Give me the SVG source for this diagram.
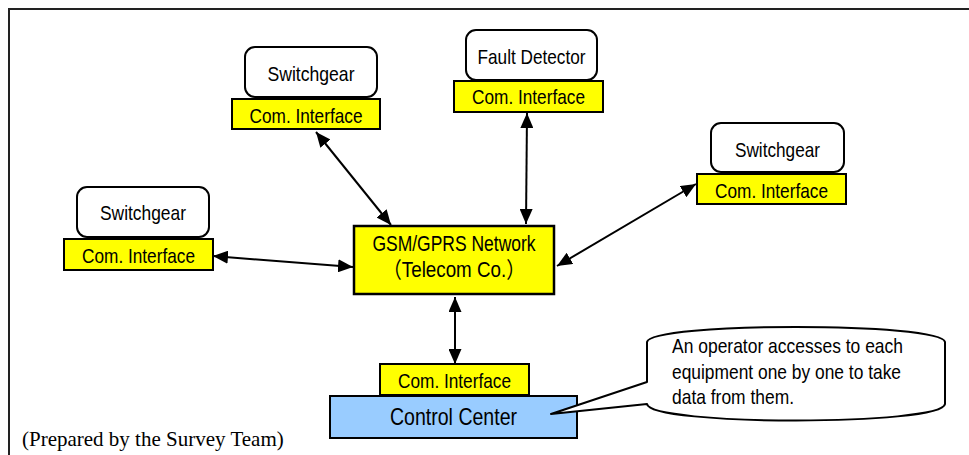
<svg xmlns="http://www.w3.org/2000/svg" width="969" height="455" viewBox="0 0 969 455">
  <defs>
    <style>
      .frame { fill: none; stroke: #222; stroke-width: 2; }
      .dev { fill: #ffffff; stroke: #000; stroke-width: 2; }
      .ifc { fill: #ffff00; stroke: #000; stroke-width: 2; }
      .net { fill: #ffff00; stroke: #000; stroke-width: 2.5; }
      .cc { fill: #99ccff; stroke: #000; stroke-width: 2; }
      .callout { fill: #ffffff; stroke: #000; stroke-width: 2; stroke-linejoin: round; }
      .lbl { font-family: "Liberation Sans", Arial, "Noto Sans CJK JP", sans-serif; font-size: 21px; fill: #000; text-anchor: middle; }
      .big { font-size: 22px; }
      .cct { font-size: 24px; }
      .note { font-family: "Liberation Sans", Arial, sans-serif; font-size: 21px; fill: #000; }
      .src { font-family: "Liberation Serif", "Times New Roman", serif; font-size: 21px; fill: #000; }
      .link { stroke: #000; stroke-width: 2; fill: none; marker-start: url(#ah); marker-end: url(#ah); }
    </style>
    <marker id="ah" viewBox="0 0 15 13" refX="15" refY="6.5" markerWidth="15" markerHeight="13" markerUnits="userSpaceOnUse" orient="auto-start-reverse">
      <path d="M0,0 L15,6.5 L0,13 Z" fill="#000"/>
    </marker>
  </defs>

  <rect width="969" height="455" fill="#ffffff"/>
  <!-- outer frame (open to the right and bottom) -->
  <path class="frame" d="M9,455 V9 H969"/>

  <!-- connectors -->
  <g id="connectors">
    <line class="link" x1="213" y1="256" x2="353" y2="267"/>
    <line class="link" x1="316" y1="132" x2="391" y2="225"/>
    <line class="link" x1="527" y1="113" x2="526" y2="224"/>
    <line class="link" x1="696" y1="184" x2="557" y2="266"/>
    <line class="link" x1="455" y1="297" x2="455" y2="364"/>
  </g>

  <g id="switchgear-left">
    <rect class="dev" x="77" y="187" width="132" height="50" rx="10"/>
    <text class="lbl" x="143" y="219.5" textLength="86" lengthAdjust="spacingAndGlyphs">Switchgear</text>
    <rect class="ifc" x="64" y="239" width="149" height="31"/>
    <text class="lbl" x="138.5" y="262.5" textLength="113" lengthAdjust="spacingAndGlyphs">Com. Interface</text>
  </g>

  <g id="switchgear-top">
    <rect class="dev" x="245" y="47" width="132" height="50" rx="10"/>
    <text class="lbl" x="311" y="80.5" textLength="87" lengthAdjust="spacingAndGlyphs">Switchgear</text>
    <rect class="ifc" x="232" y="99" width="148" height="30"/>
    <text class="lbl" x="306" y="122.5" textLength="113" lengthAdjust="spacingAndGlyphs">Com. Interface</text>
  </g>

  <g id="fault-detector">
    <rect class="dev" x="466" y="30" width="131" height="50" rx="10"/>
    <text class="lbl" x="531.5" y="63.5" textLength="108" lengthAdjust="spacingAndGlyphs">Fault Detector</text>
    <rect class="ifc" x="454" y="81" width="149" height="31"/>
    <text class="lbl" x="528.5" y="103.5" textLength="113" lengthAdjust="spacingAndGlyphs">Com. Interface</text>
  </g>

  <g id="switchgear-right">
    <rect class="dev" x="711" y="123" width="133" height="49" rx="10"/>
    <text class="lbl" x="777.5" y="157" textLength="85" lengthAdjust="spacingAndGlyphs">Switchgear</text>
    <rect class="ifc" x="697" y="174" width="149" height="30"/>
    <text class="lbl" x="771.5" y="197.5" textLength="113" lengthAdjust="spacingAndGlyphs">Com. Interface</text>
  </g>

  <g id="gsm-network">
    <rect class="net" x="354" y="226" width="200" height="68"/>
    <text class="lbl big" x="454" y="250.5" textLength="163" lengthAdjust="spacingAndGlyphs">GSM/GPRS Network</text>
    <text class="lbl big" x="454" y="276.5" textLength="142" lengthAdjust="spacingAndGlyphs">（Telecom Co.）</text>
  </g>

  <g id="control-center">
    <rect class="ifc" x="380" y="364" width="149" height="31"/>
    <text class="lbl" x="454.5" y="387.5" textLength="113" lengthAdjust="spacingAndGlyphs">Com. Interface</text>
    <rect class="cc" x="330" y="396" width="247" height="42"/>
    <text class="lbl cct" x="453.5" y="425" textLength="127" lengthAdjust="spacingAndGlyphs">Control Center</text>
  </g>

  <g id="note">
    <path class="callout" d="M647,342 C650,322 942,322 945,342 L945,404 C942,426 650,426 647,404 L551,414 L647,382 Z"/>
    <text class="note" x="672" y="353" textLength="231" lengthAdjust="spacingAndGlyphs">An operator accesses to each</text>
    <text class="note" x="672" y="379" textLength="229" lengthAdjust="spacingAndGlyphs">equipment one by one to take</text>
    <text class="note" x="672" y="404" textLength="122" lengthAdjust="spacingAndGlyphs">data from them.</text>
  </g>

  <text class="src" x="22" y="446">(Prepared by the Survey Team)</text>
</svg>
